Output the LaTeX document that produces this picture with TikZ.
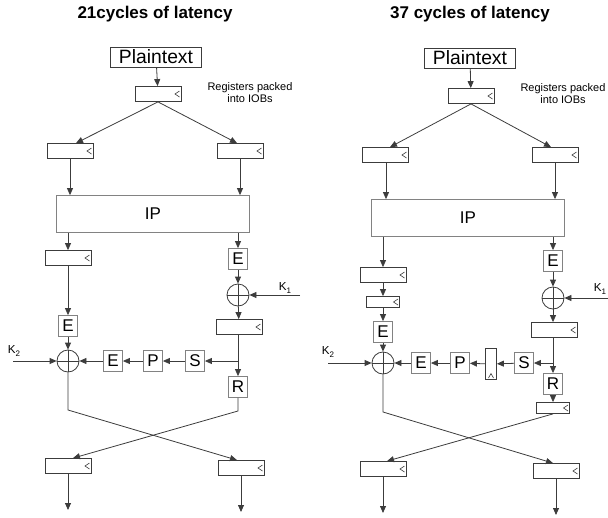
\documentclass[tikz,border=0pt]{standalone}
\usepackage{fontspec}
\setmainfont{Liberation Sans}
\usetikzlibrary{arrows.meta, positioning, calc}
\definecolor{linegray}{RGB}{60,60,60}
\definecolor{boxgray}{RGB}{130,130,130}
\newcommand{\ksub}[1]{K\raisebox{-2.5pt}{\fontsize{8}{8}\selectfont #1}}

\tikzset{
  arr/.style={draw=linegray, line width=0.8pt, -{Triangle[length=7pt,width=6pt]}},
  wire/.style={draw=linegray, line width=0.8pt},
  reg/.style={draw=linegray, line width=0.8pt, minimum width=46pt, minimum height=15pt, inner sep=0pt,
    path picture={\draw[linegray, line width=0.6pt]
      ([xshift=-1.5pt,yshift=3pt]path picture bounding box.east) --
      ([xshift=-6pt]path picture bounding box.east) --
      ([xshift=-1.5pt,yshift=-3pt]path picture bounding box.east);}},
  sreg/.style={reg, minimum width=33pt, minimum height=11pt},
  vreg/.style={draw=linegray, line width=0.8pt, minimum width=11pt, minimum height=31pt, inner sep=0pt,
    path picture={\draw[linegray, line width=0.6pt]
      ([xshift=-2.5pt,yshift=1.5pt]path picture bounding box.south) --
      ([yshift=6pt]path picture bounding box.south) --
      ([xshift=2.5pt,yshift=1.5pt]path picture bounding box.south);}},
  blk/.style={draw=boxgray, line width=0.8pt, minimum width=19pt, minimum height=21pt, inner sep=0pt,
    font=\fontsize{17}{17}\selectfont},
  ipbox/.style={blk, minimum width=193pt, minimum height=37pt},
  txtbox/.style={draw=linegray, line width=0.8pt, minimum width=91pt, minimum height=20pt, inner sep=0pt,
    font=\fontsize{19.3}{20}\selectfont},
  xor/.style={circle, draw=linegray, line width=0.8pt, minimum size=22pt, inner sep=0pt,
    path picture={\draw[linegray, line width=0.6pt]
      (path picture bounding box.north) -- (path picture bounding box.south)
      (path picture bounding box.west) -- (path picture bounding box.east);}},
  note/.style={align=center, font=\fontsize{11}{12}\selectfont, inner sep=0pt},
  title/.style={font=\bfseries\fontsize{17}{20}\selectfont},
  klabel/.style={font=\fontsize{11.6}{12}\selectfont, inner sep=0pt}
}

\begin{document}
\begin{tikzpicture}[x=1pt, y=-1pt]
  \useasboundingbox (0,0) rectangle (608,517);

  % 21 cycles
  \node[title] (titleA) at (155,14) {21cycles of latency};
  \node[txtbox] (ptA) at (156,57) {Plaintext};
  \node[reg] (rA0) at (158,94) {};
  \node[note] (noteA) at (250,93) {Registers packed\\into IOBs};
  \node[reg] (rA1) at (70,151) {};
  \node[reg] (rA2) at (240,151) {};
  \node[ipbox] (ipA) at (153,214) {IP};
  \node[reg] (rA3) at (68,258) {};
  \node[blk] (eA1) at (238,259) {E};
  \node[xor] (xA1) at (238,295) {};
  \node[klabel] (lkA1) at (285,288) {\ksub{1}};
  \coordinate (kA1) at (300,295);
  \node[reg] (rA4) at (239,327) {};
  \node[blk] (eA2) at (68,326) {E};
  \node[xor] (xA2) at (68,361) {};
  \node[blk] (eA3) at (113,361) {E};
  \node[blk] (pA) at (153,361) {P};
  \node[blk] (sA) at (195,361) {S};
  \node[klabel] (lkA2) at (14,351) {\ksub{2}};
  \coordinate (kA2) at (13,361);
  \node[blk] (rdA) at (238,387) {R};
  \coordinate (brA) at (rdA |- sA.east);
  \node[reg] (oA1) at (68,466) {};
  \node[reg] (oA2) at (241,468) {};
  \coordinate (endA1) at (68,510);
  \coordinate (endA2) at (241,512);

  \draw[arr] (ptA) -- (rA0);
  \draw[arr] (rA0.south) -- ([xshift=6pt]rA1.north);
  \draw[arr] (rA0.south) -- ([xshift=-3pt]rA2.north);
  \draw[arr] (rA1.south) -- (rA1.south |- ipA.north);
  \draw[arr] (rA2.south) -- (rA2.south |- ipA.north);
  \draw[arr] (rA3 |- ipA.south) -- (rA3.north);
  \draw[arr] (eA1 |- ipA.south) -- (eA1.north);
  \draw[arr] (eA1) -- (xA1);
  \draw[arr] (kA1) -- (xA1.east);
  \draw[arr] (xA1) -- (rA4);
  \draw[arr] (rA4.south -| rdA) -- (rdA.north);
  \draw[arr] (brA) -- (sA.east);
  \draw[arr] (sA) -- (pA);
  \draw[arr] (pA) -- (eA3);
  \draw[arr] (eA3) -- (xA2);
  \draw[arr] (rA3) -- (eA2);
  \draw[arr] (eA2) -- (xA2);
  \draw[arr] (kA2) -- (xA2.west);
  \draw[arr] (xA2.south) -- (68,410) -- ([xshift=-4pt]oA2.north);
  \draw[arr] (rdA.south) -- (238,411) -- ([xshift=5pt]oA1.north);
  \draw[arr] (oA1) -- (endA1);
  \draw[arr] (oA2) -- (endA2);

  % 37 cycles
  \node[title] (titleB) at (470,14) {37 cycles of latency};
  \node[txtbox] (ptB) at (470,58) {Plaintext};
  \node[reg] (rB0) at (471,96) {};
  \node[note] (noteB) at (563,94) {Registers packed\\into IOBs};
  \node[reg] (rB1) at (385,155) {};
  \node[reg] (rB2) at (555,155) {};
  \node[ipbox] (ipB) at (468,218) {IP};
  \node[reg] (rB3) at (383,275) {};
  \node[sreg] (rB4) at (383,302) {};
  \node[blk] (eB2) at (383,332) {E};
  \node[xor] (xB2) at (383,363) {};
  \node[klabel] (lkB2) at (328,352) {\ksub{2}};
  \coordinate (kB2) at (328,363);
  \node[blk] (eB1) at (553,261) {E};
  \node[xor] (xB1) at (553,298) {};
  \node[klabel] (lkB1) at (600,289) {\ksub{1}};
  \coordinate (kB1) at (609,298);
  \node[reg] (rB5) at (554,330) {};
  \node[blk] (sB) at (524,363) {S};
  \node[vreg] (vB) at (491,364) {};
  \node[blk] (pB) at (460,363) {P};
  \node[blk] (eB3) at (421,363) {E};
  \node[blk] (rdB) at (553,384) {R};
  \coordinate (brB) at (rdB |- sB.east);
  \node[sreg] (rB6) at (553,408) {};
  \node[reg] (oB1) at (383,469) {};
  \node[reg] (oB2) at (556,471) {};
  \coordinate (endB1) at (383,513);
  \coordinate (endB2) at (556,515);

  \draw[arr] (ptB) -- (rB0);
  \draw[arr] (rB0.south) -- ([xshift=5pt]rB1.north);
  \draw[arr] (rB0.south) -- ([xshift=-4pt]rB2.north);
  \draw[arr] ([xshift=1pt]rB1.south) -- ([xshift=1pt]rB1.south |- ipB.north);
  \draw[arr] (rB2.south) -- (rB2.south |- ipB.north);
  \draw[arr] (rB3 |- ipB.south) -- (rB3.north);
  \draw[arr] (rB3) -- (rB4);
  \draw[arr] (rB4) -- (eB2);
  \draw[arr] (eB2) -- (xB2);
  \draw[arr] (kB2) -- (xB2.west);
  \draw[arr] (eB1 |- ipB.south) -- (eB1.north);
  \draw[arr] (eB1) -- (xB1);
  \draw[arr] (kB1) -- (xB1.east);
  \draw[arr] (xB1) -- (rB5.north -| xB1);
  \draw[arr] (rB5.south -| rdB) -- (rdB.north);
  \draw[arr] (brB) -- (sB.east);
  \draw[arr] (sB) -- (vB);
  \draw[arr] (vB) -- (pB);
  \draw[arr] (pB) -- (eB3);
  \draw[arr] (eB3) -- (xB2);
  \draw[arr] (rdB) -- (rB6);
  \draw[arr] (xB2.south) -- (383,412) -- ([xshift=-3pt]oB2.north);
  \draw[arr] (rB6.south) -- ([xshift=4pt]oB1.north);
  \draw[arr] (oB1) -- (endB1);
  \draw[arr] (oB2) -- (endB2);
\end{tikzpicture}
\end{document}
